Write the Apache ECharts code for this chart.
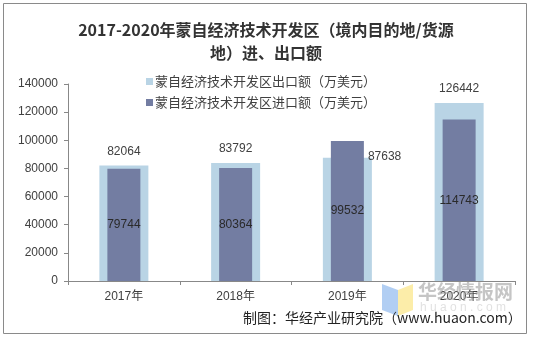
<!DOCTYPE html>
<html><head><meta charset="utf-8">
<script src="https://cdn.jsdelivr.net/npm/echarts@6/dist/echarts.min.js"></script>
<style>html,body{margin:0;padding:0;background:#fff}#c{width:535px;height:338px}</style>
</head><body><div id="c"></div>
<script>
const categories = ['2017年', '2018年', '2019年', '2020年'];
const exportValues = [82064, 83792, 87638, 126442];
const importValues = [79744, 80364, 99532, 114743];
const exportName = '蒙自经济技术开发区出口额（万美元）';
const importName = '蒙自经济技术开发区进口额（万美元）';
const yTicks = { min: 0, max: 140000, interval: 20000 };

const chart = echarts.init(document.getElementById('c'));
const txt = '#404040';
const font = '"Liberation Sans", Arial, "Noto Sans CJK SC", sans-serif';

chart.setOption({
  animation: false,
  textStyle: { fontFamily: font },
  title: {
    text: '2017-2020年蒙自经济技术开发区（境内目的地/货源\n地）进、出口额',
    left: 261, textAlign: 'center', top: 13,
    textStyle: { fontFamily: '"Noto Sans CJK SC", serif', fontWeight: 'bold', fontSize: 16, lineHeight: 23, color: '#333' }
  },
  legend: {
    orient: 'vertical', left: 141, top: 70, itemGap: 8,
    itemWidth: 7, itemHeight: 7, icon: 'rect',
    textStyle: { fontSize: 13, color: txt, fontFamily: '"Noto Sans CJK SC", sans-serif', padding: [0, 0, 0, -3] },
    data: [exportName, importName]
  },
  grid: { left: 68, right: 20, top: 84, bottom: 57 },
  xAxis: [
    { type: 'category', data: categories,
      axisLine: { lineStyle: { color: '#888' } },
      axisTick: { show: true, alignWithLabel: false, length: 4, lineStyle: { color: '#888' } },
      axisLabel: { color: txt, fontSize: 12, margin: 10, fontFamily: font } },
    { type: 'category', data: categories, show: false }
  ],
  yAxis: {
    type: 'value', min: yTicks.min, max: yTicks.max, interval: yTicks.interval,
    splitLine: { show: false },
    axisLine: { show: true, lineStyle: { color: '#888' } },
    axisTick: { show: true, length: 4, lineStyle: { color: '#888' } },
    axisLabel: { color: txt, fontSize: 12, margin: 10, fontFamily: font, formatter: v => String(v) }
  },
  series: [
    { name: exportName, type: 'bar', xAxisIndex: 0, barWidth: 49,
      itemStyle: { color: '#B9D4E5' },
      label: { show: true, position: 'top', distance: 8, color: txt, fontSize: 12, fontFamily: font },
      data: exportValues.map((v, i) => i === 2
        ? { value: v, label: { position: [45, -7], align: 'left', verticalAlign: 'top' } }
        : v)
    },
    { name: importName, type: 'bar', xAxisIndex: 1, barWidth: 33,
      itemStyle: { color: '#737DA2' },
      label: { show: true, position: 'inside', color: '#2a2a2a', fontSize: 12, fontFamily: font },
      data: importValues
    }
  ],
  graphic: [
    { type: 'rect', shape: { x: 3.5, y: 3.5, width: 523, height: 330 }, style: { fill: 'none', stroke: '#8a8a8a', lineWidth: 1 }, z: -1 },
    { type: 'polygon', shape: { points: [[382, 284], [398, 290], [398, 316], [382, 310]] }, style: { fill: '#A9C9F2', opacity: 0.9 }, z: 10 },
    { type: 'polygon', shape: { points: [[398, 290], [413, 284], [413, 310], [398, 316]] }, style: { fill: '#FCEBA0', opacity: 0.9 }, z: 10 },
    { type: 'text', left: 418, top: 282, style: { text: '华经情报网', fill: 'rgba(150,150,150,0.55)', font: 'bold 19px "Noto Sans CJK SC"' }, z: 10 },
    { type: 'text', left: 420, top: 302, style: { text: 'h u a o n . c o m', fill: 'rgba(170,170,170,0.35)', font: '12px "Liberation Sans"' }, z: 10 },
    { type: 'text', left: 243, top: 311, style: { text: '制图：华经产业研究院（www.huaon.com）', fill: '#222', font: '14px "Noto Sans CJK SC"' }, z: 11 }
  ]
});
</script></body></html>
